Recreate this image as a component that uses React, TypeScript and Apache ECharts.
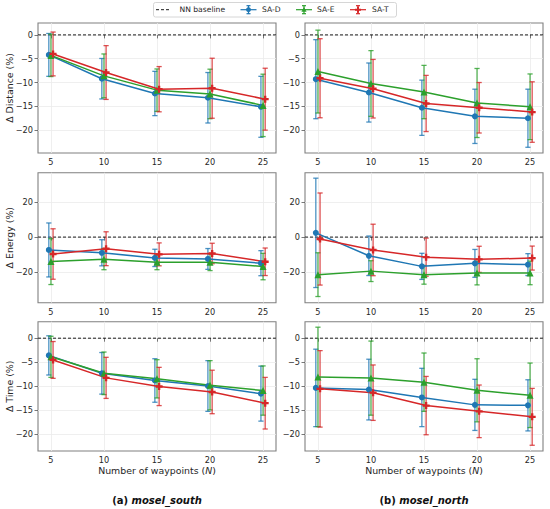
import React, { useEffect, useRef } from "react";
import * as echarts from "echarts";

const FONT = "DejaVu Sans";

const waypoints = [5, 10, 15, 20, 25];
const methods = ["SA-D", "SA-E", "SA-T"];
const methodColors = ["#1f77b4", "#2ca02c", "#d62728"];
const methodOffsets = [-0.2, 0, 0.2];
const methodSymbols = ["circle", "triangle", "path://M2,0h2v2h2v2h-2v2h-2v-2h-2v-2h2z"];
const methodSymbolSizes = [6, 7, 7];

// Δ Distance (%) – mosel_south
const distSouthD = [-4.2, -9.2, -12.3, -13.2, -15.1];
const distSouthDErr = [4.5, 4.25, 4.65, 5.3, 6.4];
const distSouthE = [-4.3, -8.6, -11.6, -12.4, -14.8];
const distSouthEErr = [4.45, 4.6, 4.45, 5.2, 6.55];
const distSouthT = [-4.0, -7.9, -11.4, -11.2, -13.5];
const distSouthTErr = [4.6, 5.65, 4.75, 6.3, 6.5];
// Δ Distance (%) – mosel_north
const distNorthD = [-9.3, -12.1, -15.3, -17.1, -17.5];
const distNorthDErr = [8.3, 6.2, 5.8, 5.7, 6.1];
const distNorthE = [-7.7, -10.2, -12.0, -14.3, -15.1];
const distNorthEErr = [8.7, 6.9, 5.6, 7.25, 6.9];
const distNorthT = [-9.1, -11.3, -14.4, -15.3, -16.2];
const distNorthTErr = [8.3, 6.15, 5.9, 5.3, 6.35];
// Δ Energy (%) – mosel_south
const energySouthD = [-7.3, -8.9, -11.8, -12.4, -14.8];
const energySouthDErr = [15.3, 7.4, 4.9, 5.9, 7.1];
const energySouthE = [-13.9, -12.5, -14.3, -14.2, -16.7];
const energySouthEErr = [13.0, 6.0, 4.2, 4.8, 7.5];
const energySouthT = [-9.6, -6.6, -9.8, -9.3, -14.0];
const energySouthTErr = [14.3, 9.6, 6.5, 5.8, 7.8];
// Δ Energy (%) – mosel_north
const energyNorthD = [2.4, -10.6, -16.6, -14.9, -15.6];
const energyNorthDErr = [31.0, 11.2, 7.4, 7.9, 6.2];
const energyNorthE = [-21.3, -19.3, -21.4, -20.4, -20.3];
const energyNorthEErr = [12.4, 5.9, 5.3, 6.7, 6.7];
const energyNorthT = [-1.1, -7.3, -11.4, -12.6, -11.9];
const energyNorthTErr = [26.1, 14.6, 10.8, 7.4, 6.8];
// Δ Time (%) – mosel_south
const timeSouthD = [-3.6, -7.35, -8.85, -10.0, -11.6];
const timeSouthDErr = [4.1, 4.35, 4.55, 5.3, 5.75];
const timeSouthE = [-3.9, -7.35, -8.5, -9.85, -10.95];
const timeSouthEErr = [4.3, 4.45, 4.0, 5.15, 5.15];
const timeSouthT = [-4.55, -8.3, -10.1, -11.25, -13.6];
const timeSouthTErr = [3.85, 4.3, 4.0, 4.55, 5.4];
// Δ Time (%) – mosel_north
const timeNorthD = [-10.4, -10.75, -12.4, -13.95, -14.05];
const timeNorthDErr = [8.1, 6.35, 6.1, 5.35, 5.35];
const timeNorthE = [-8.1, -8.35, -9.2, -10.9, -11.95];
const timeNorthEErr = [10.4, 7.75, 6.1, 6.6, 6.75];
const timeNorthT = [-10.6, -11.4, -14.1, -15.3, -16.45];
const timeNorthTErr = [8.0, 5.8, 6.1, 5.5, 5.95];

const rowTitles = ["Δ Distance (%)", "Δ Energy (%)", "Δ Time (%)"];
const distanceTicks = [-20, -15, -10, -5, 0];
const energyTicks = [-20, 0, 20];
const timeTicks = [-20, -15, -10, -5, 0];
const rowTicks = [distanceTicks, energyTicks, timeTicks];
const rowSplitNumbers = [5, 3, 5];
const rowRanges = [
  [-24.8, 2.5],
  [-37.2, 36.5],
  [-23.6, 3.45],
];
const xRange = [3.78, 26.22];
const captions = [
  ["(a) ", "mosel_south"],
  ["(b) ", "mosel_north"],
];

const panels = [
  { row: 0, col: 0, means: [distSouthD, distSouthE, distSouthT], errs: [distSouthDErr, distSouthEErr, distSouthTErr] },
  { row: 0, col: 1, means: [distNorthD, distNorthE, distNorthT], errs: [distNorthDErr, distNorthEErr, distNorthTErr] },
  { row: 1, col: 0, means: [energySouthD, energySouthE, energySouthT], errs: [energySouthDErr, energySouthEErr, energySouthTErr] },
  { row: 1, col: 1, means: [energyNorthD, energyNorthE, energyNorthT], errs: [energyNorthDErr, energyNorthEErr, energyNorthTErr] },
  { row: 2, col: 0, means: [timeSouthD, timeSouthE, timeSouthT], errs: [timeSouthDErr, timeSouthEErr, timeSouthTErr] },
  { row: 2, col: 1, means: [timeNorthD, timeNorthE, timeNorthT], errs: [timeNorthDErr, timeNorthEErr, timeNorthTErr] },
];

// layout (pixels)
const colLeft = [38, 305];
const panelWidth = 238;
const rowTop = [23, 172.7, 321.7];
const rowHeight = [130, 130, 129.3];

const fmtMinus = (v: number) => String(v).replace("-", "\u2212");

function buildOption() {
  const grid: any[] = [];
  const xAxis: any[] = [];
  const yAxis: any[] = [];
  const series: any[] = [];

  panels.forEach((p, i) => {
    grid.push({
      left: colLeft[p.col],
      top: rowTop[p.row],
      width: panelWidth,
      height: rowHeight[p.row],
      show: true,
      borderColor: "#808080",
      borderWidth: 1.1,
      backgroundColor: "transparent",
      containLabel: false,
    });
    xAxis.push({
      type: "value",
      gridIndex: i,
      min: xRange[0],
      max: xRange[1],
      splitNumber: 5,
      axisLine: { show: false },
      axisTick: { show: true, length: 3.5, customValues: waypoints, lineStyle: { color: "#555", width: 0.8 } },
      axisLabel: { customValues: waypoints, fontSize: 8.2, color: "#262626", fontFamily: FONT, margin: 5 },
      splitLine: { show: true, lineStyle: { color: "#ebebeb", width: 0.8 } },
    });
    yAxis.push({
      type: "value",
      gridIndex: i,
      min: rowRanges[p.row][0],
      max: rowRanges[p.row][1],
      splitNumber: rowSplitNumbers[p.row],
      axisLine: { show: false },
      axisTick: { show: true, length: 3.5, customValues: rowTicks[p.row], lineStyle: { color: "#555", width: 0.8 } },
      axisLabel: {
        customValues: rowTicks[p.row],
        fontSize: 8.2,
        color: "#262626",
        fontFamily: FONT,
        margin: 5,
        formatter: (v: number) => fmtMinus(v),
      },
      splitLine: { show: true, lineStyle: { color: "#ebebeb", width: 0.8 } },
    });

    // NN baseline
    series.push({
      type: "line",
      xAxisIndex: i,
      yAxisIndex: i,
      data: [
        [xRange[0], 0],
        [xRange[1], 0],
      ],
      symbol: "none",
      silent: true,
      lineStyle: { color: "#000", width: 0.9, type: [3, 2] },
      z: 1,
    });

    methods.forEach((m, k) => {
      const color = methodColors[k];
      const off = methodOffsets[k];
      const mean = p.means[k];
      const err = p.errs[k];
      series.push({
        type: "custom",
        name: m,
        xAxisIndex: i,
        yAxisIndex: i,
        silent: true,
        z: 2,
        encode: { x: 0, y: [1, 2] },
        data: waypoints.map((w, j) => [w + off, mean[j] - err[j], mean[j] + err[j]]),
        renderItem: (params: any, api: any) => {
          const x = api.value(0);
          const a = api.coord([x, api.value(1)]);
          const b = api.coord([x, api.value(2)]);
          const st = { stroke: color, lineWidth: 1.3, opacity: 0.8 };
          const cap = 2.6;
          return {
            type: "group",
            children: [
              { type: "line", shape: { x1: a[0], y1: a[1], x2: b[0], y2: b[1] }, style: st },
              { type: "line", shape: { x1: a[0] - cap, y1: a[1], x2: a[0] + cap, y2: a[1] }, style: st },
              { type: "line", shape: { x1: b[0] - cap, y1: b[1], x2: b[0] + cap, y2: b[1] }, style: st },
            ],
          };
        },
      });
      series.push({
        type: "line",
        name: m,
        xAxisIndex: i,
        yAxisIndex: i,
        silent: true,
        z: 2,
        data: waypoints.map((w, j) => [w + off, mean[j]]),
        symbol: methodSymbols[k],
        symbolSize: methodSymbolSizes[k],
        lineStyle: { color, width: 1.5 },
        itemStyle: { color },
      });
    });
  });

  const graphic: any[] = [];
  // y-axis titles
  rowTitles.forEach((t, r) => {
    graphic.push({
      type: "text",
      x: 9.5,
      y: rowTop[r] + rowHeight[r] / 2,
      rotation: Math.PI / 2,
      style: { text: t, fontSize: 9.4, fontFamily: FONT, fill: "#262626", align: "center", verticalAlign: "middle" },
    });
  });
  // x-axis titles and captions
  [0, 1].forEach((c) => {
    const cx = colLeft[c] + panelWidth / 2;
    graphic.push({
      type: "text",
      x: cx,
      y: 470,
      style: {
        text: "{a|Number of waypoints (}{b|N}{a|)}",
        align: "center",
        verticalAlign: "middle",
        rich: {
          a: { fontSize: 9.4, fontFamily: FONT, fill: "#262626" },
          b: { fontSize: 9.4, fontFamily: FONT, fill: "#262626", fontStyle: "italic" },
        },
      },
    });
    graphic.push({
      type: "text",
      x: cx,
      y: 500,
      style: {
        text: "{a|" + captions[c][0] + "}{b|" + captions[c][1] + "}",
        align: "center",
        verticalAlign: "middle",
        rich: {
          a: { fontSize: 10, fontFamily: FONT, fontWeight: "bold", fill: "#111" },
          b: { fontSize: 10, fontFamily: FONT, fontWeight: "bold", fontStyle: "italic", fill: "#111" },
        },
      },
    });
  });

  // legend
  const ly = 9.7;
  graphic.push({
    type: "rect",
    shape: { x: 153.5, y: 2.5, width: 243, height: 14.5, r: 2 },
    style: { fill: "#fff", stroke: "#cccccc", lineWidth: 0.8 },
  });
  graphic.push({
    type: "line",
    shape: { x1: 156, y1: ly, x2: 171, y2: ly },
    style: { stroke: "#000", lineWidth: 0.9, lineDash: [3, 2] },
  });
  graphic.push({
    type: "text",
    x: 179.5,
    y: ly,
    style: { text: "NN baseline", fontSize: 7.6, fontFamily: FONT, fill: "#262626", verticalAlign: "middle" },
  });
  const legendX = [240.5, 296, 350];
  const legendTextX = [262, 317, 372];
  methods.forEach((m, k) => {
    const color = methodColors[k];
    const x0 = legendX[k];
    const cx = x0 + 8;
    const st = { stroke: color, lineWidth: 1.2 };
    graphic.push({ type: "line", shape: { x1: x0, y1: ly, x2: x0 + 16, y2: ly }, style: st });
    graphic.push({ type: "line", shape: { x1: cx, y1: ly - 4, x2: cx, y2: ly + 4 }, style: st });
    graphic.push({ type: "line", shape: { x1: cx - 2, y1: ly - 4, x2: cx + 2, y2: ly - 4 }, style: st });
    graphic.push({ type: "line", shape: { x1: cx - 2, y1: ly + 4, x2: cx + 2, y2: ly + 4 }, style: st });
    if (k === 0) {
      graphic.push({ type: "circle", shape: { cx, cy: ly, r: 2.4 }, style: { fill: color } });
    } else if (k === 1) {
      graphic.push({
        type: "polygon",
        shape: { points: [[cx, ly - 2.8], [cx + 2.6, ly + 2], [cx - 2.6, ly + 2]] },
        style: { fill: color },
      });
    } else {
      graphic.push({
        type: "polygon",
        shape: {
          points: [
            [cx - 1, ly - 3], [cx + 1, ly - 3], [cx + 1, ly - 1], [cx + 3, ly - 1], [cx + 3, ly + 1], [cx + 1, ly + 1],
            [cx + 1, ly + 3], [cx - 1, ly + 3], [cx - 1, ly + 1], [cx - 3, ly + 1], [cx - 3, ly - 1], [cx - 1, ly - 1],
          ],
        },
        style: { fill: color },
      });
    }
    graphic.push({
      type: "text",
      x: legendTextX[k],
      y: ly,
      style: { text: m, fontSize: 7.6, fontFamily: FONT, fill: "#262626", verticalAlign: "middle" },
    });
  });

  return {
    animation: false,
    backgroundColor: "#ffffff",
    textStyle: { fontFamily: FONT },
    grid,
    xAxis,
    yAxis,
    series,
    graphic,
  };
}

export default function App() {
  const ref = useRef<HTMLDivElement>(null);
  useEffect(() => {
    if (!ref.current) return;
    const chart = echarts.init(ref.current, null, { renderer: "svg" });
    chart.setOption(buildOption() as any);
    return () => chart.dispose();
  }, []);
  return (
    <div
      ref={ref}
      style={{ position: "absolute", left: 0, top: 0, width: 550, height: 509, background: "#fff" }}
    />
  );
}
